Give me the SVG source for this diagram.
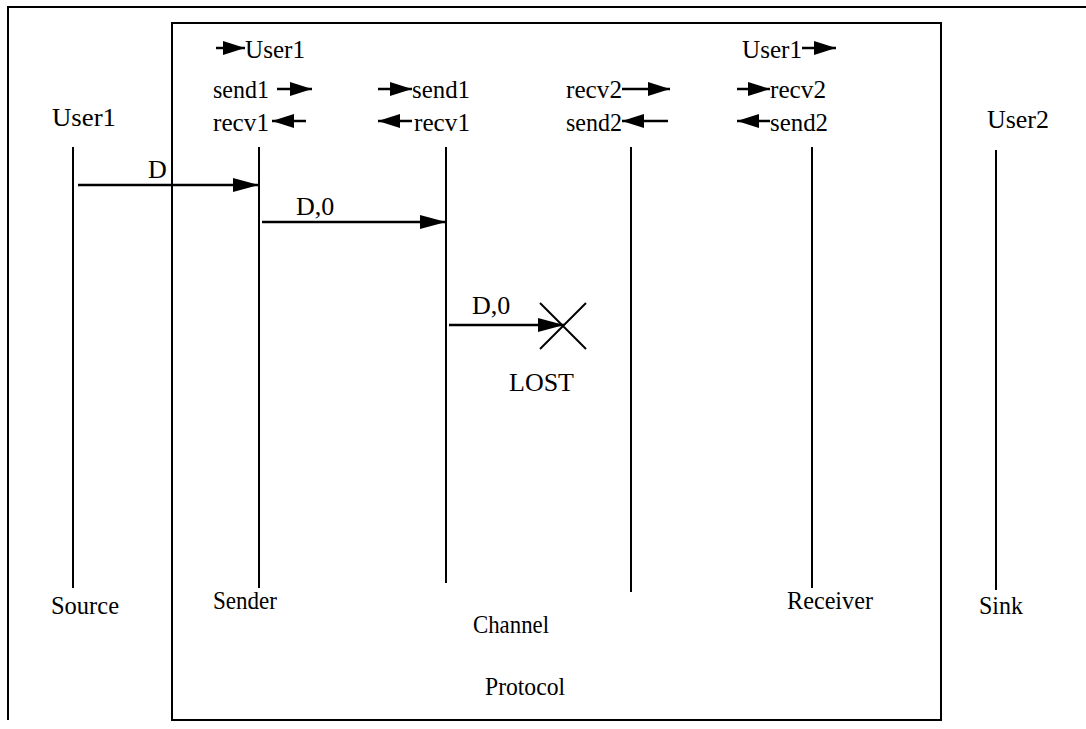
<svg xmlns="http://www.w3.org/2000/svg" width="1086" height="729" viewBox="0 0 1086 729">
<style>
text{font-family:"Liberation Serif","Times New Roman",serif;font-size:26px;fill:#000}
.frame{fill:none;stroke:#000;stroke-width:2}
.life{stroke:#000;stroke-width:2}
.msg{stroke:#000;stroke-width:2.5;marker-end:url(#ah)}
.lab{stroke:#000;stroke-width:2.5;marker-end:url(#sh)}
.x{stroke:#000;stroke-width:2}
</style>
<defs>
<marker id="ah" markerUnits="userSpaceOnUse" markerWidth="27" markerHeight="16" refX="26" refY="8" orient="auto"><path d="M0,1 L26,8 L0,15 z" fill="#000"/></marker>
<marker id="sh" markerUnits="userSpaceOnUse" markerWidth="23" markerHeight="14" refX="22" refY="7" orient="auto"><path d="M0,0 L22,7 L0,14 z" fill="#000"/></marker>
</defs>
<g id="outer"><polyline class="frame" points="8,720 8,7 1086,7"/></g>
<g id="protocol"><rect class="frame" x="172" y="23" width="769" height="697"/><text x="485" y="695" textLength="80" lengthAdjust="spacingAndGlyphs">Protocol</text></g>
<g id="source"><text x="52" y="126" textLength="64" lengthAdjust="spacingAndGlyphs">User1</text><line class="life" x1="73" y1="147" x2="73" y2="588"/><text x="51" y="614" textLength="68" lengthAdjust="spacingAndGlyphs">Source</text></g>
<g id="sender"><line class="lab" x1="216" y1="48" x2="245" y2="48"/><text x="245" y="58" textLength="60" lengthAdjust="spacingAndGlyphs">User1</text><text x="213" y="98" textLength="56" lengthAdjust="spacingAndGlyphs">send1</text><line class="lab" x1="277" y1="89" x2="312" y2="89"/><text x="213" y="131" textLength="56" lengthAdjust="spacingAndGlyphs">recv1</text><line class="lab" x1="306" y1="121" x2="272" y2="121"/><line class="life" x1="259" y1="147" x2="259" y2="588"/><text x="213" y="609" textLength="64" lengthAdjust="spacingAndGlyphs">Sender</text></g>
<g id="channel"><line class="lab" x1="378" y1="89" x2="412" y2="89"/><text x="412" y="98" textLength="58" lengthAdjust="spacingAndGlyphs">send1</text><line class="lab" x1="412" y1="121" x2="378" y2="121"/><text x="414" y="131" textLength="56" lengthAdjust="spacingAndGlyphs">recv1</text><line class="life" x1="446" y1="147" x2="446" y2="583"/><text x="566" y="98" textLength="56" lengthAdjust="spacingAndGlyphs">recv2</text><line class="lab" x1="622" y1="89" x2="670" y2="89"/><text x="566" y="131" textLength="56" lengthAdjust="spacingAndGlyphs">send2</text><line class="lab" x1="668" y1="121" x2="622" y2="121"/><line class="life" x1="631" y1="147" x2="631" y2="592"/><text x="473" y="633" textLength="76" lengthAdjust="spacingAndGlyphs">Channel</text></g>
<g id="receiver"><text x="742" y="58" textLength="60" lengthAdjust="spacingAndGlyphs">User1</text><line class="lab" x1="802" y1="48" x2="836" y2="48"/><line class="lab" x1="737" y1="89" x2="770" y2="89"/><text x="770" y="98" textLength="56" lengthAdjust="spacingAndGlyphs">recv2</text><line class="lab" x1="770" y1="121" x2="737" y2="121"/><text x="770" y="131" textLength="58" lengthAdjust="spacingAndGlyphs">send2</text><line class="life" x1="812" y1="147" x2="812" y2="588"/><text x="787" y="609" textLength="86" lengthAdjust="spacingAndGlyphs">Receiver</text></g>
<g id="sink"><text x="987" y="128" textLength="62" lengthAdjust="spacingAndGlyphs">User2</text><line class="life" x1="996" y1="150" x2="996" y2="590"/><text x="979" y="614" textLength="44" lengthAdjust="spacingAndGlyphs">Sink</text></g>
<g id="connectors">
<line class="msg" x1="78" y1="185" x2="259" y2="185"/><text x="148" y="178">D</text>
<line class="msg" x1="262" y1="222" x2="446" y2="222"/><text x="296" y="215">D,0</text>
<line class="msg" x1="449" y1="325" x2="564" y2="325"/><text x="472" y="314">D,0</text>
</g>
<g id="lost"><line class="x" x1="540" y1="303" x2="586" y2="349"/><line class="x" x1="586" y1="303" x2="540" y2="349"/><text x="509" y="391">LOST</text></g>
</svg>
